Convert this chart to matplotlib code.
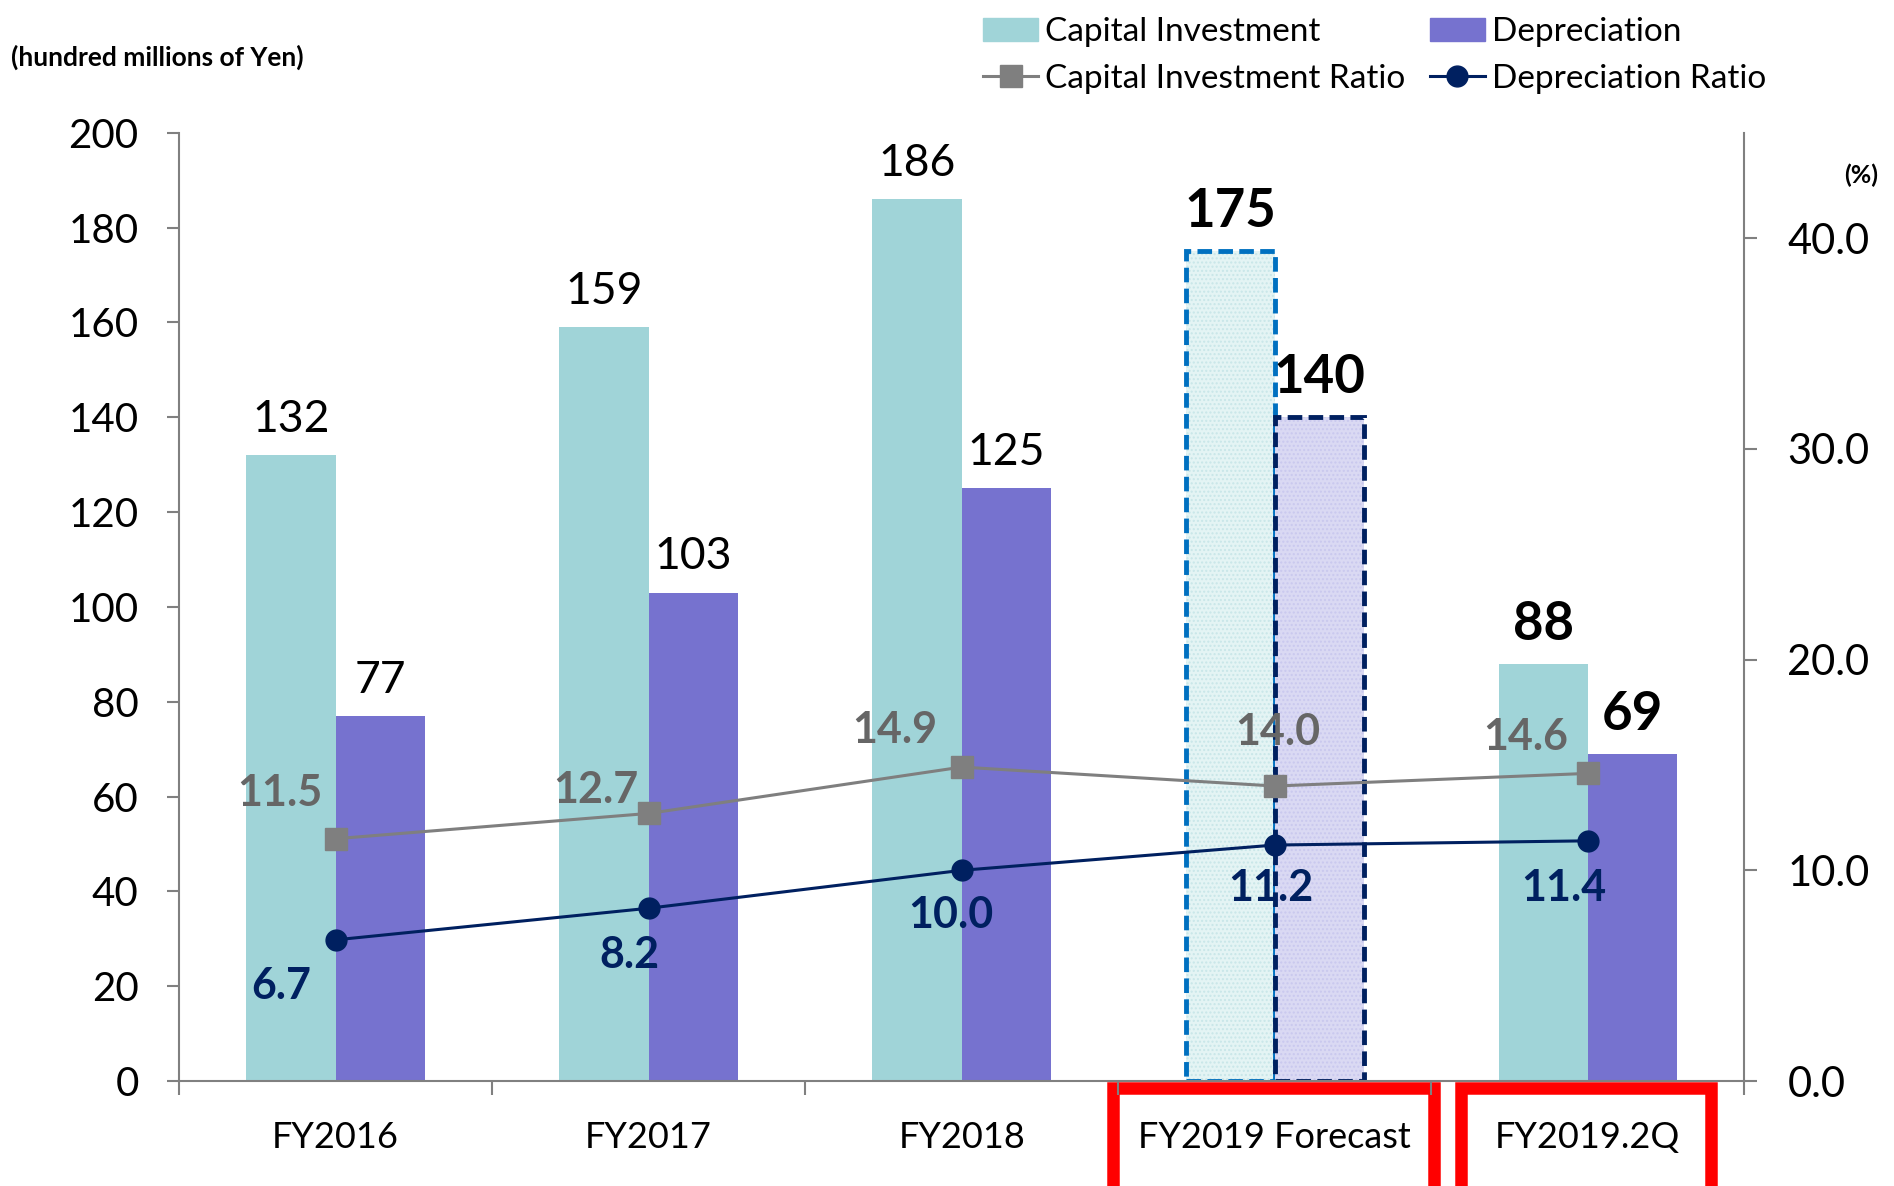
import numpy as np
import matplotlib
matplotlib.use("Agg")
import matplotlib.pyplot as plt
from matplotlib.patches import Rectangle

plt.rcParams['font.family'] = ['Lato', 'DejaVu Sans']

# data
categories = ["FY2016", "FY2017", "FY2018", "FY2019 Forecast", "FY2019.2Q"]
capital = [132, 159, 186, 175, 88]
depreciation = [77, 103, 125, 140, 69]
capital_ratio = [11.5, 12.7, 14.9, 14.0, 14.6]
dep_ratio = [6.7, 8.2, 10.0, 11.2, 11.4]
forecast = [False, False, False, True, False]
highlight = [False, False, False, True, True]

# label offsets (points) for ratio labels
cap_off = [(-40, 33), (-38, 17), (-48, 27), (2, 39), (-45, 26)]
dep_off = [(-39, -33), (-14, -34), (-8, -32), (-3, -31), (-17, -34)]

c_cap = "#A0D4D8"
c_dep = "#7672CF"
c_cap_ratio = "#7F7F7F"
c_dep_ratio = "#002060"

fig = plt.figure(figsize=(18.94, 11.86), dpi=100)
ax = fig.add_axes([0.0945, 0.0885, 0.8265, 0.7995])
ax2 = ax.twinx()

x = np.arange(len(categories))
w = 0.285

for i in range(len(categories)):
    if forecast[i]:
        ax.bar(x[i] - w / 2, capital[i], w, color="#E4F4F4", edgecolor="#C8E6E8",
               linewidth=0, hatch="....", zorder=2)
        ax.bar(x[i] - w / 2, capital[i], w, fill=False, edgecolor="#0070C0",
               linestyle=(0, (3, 1.3)), linewidth=3.5, zorder=2)
        ax.bar(x[i] + w / 2, depreciation[i], w, color="#DAD9F3", edgecolor="#C9C8EE",
               linewidth=0, hatch="....", zorder=2)
        ax.bar(x[i] + w / 2, depreciation[i], w, fill=False, edgecolor=c_dep_ratio,
               linestyle=(0, (3, 1.3)), linewidth=3.5, zorder=2)
    else:
        ax.bar(x[i] - w / 2, capital[i], w, color=c_cap, zorder=2)
        ax.bar(x[i] + w / 2, depreciation[i], w, color=c_dep, zorder=2)

# bar value labels
for i in range(len(categories)):
    big = i >= 3
    fs = 38 if big else 32
    fw = "bold" if big else "normal"
    ax.annotate(str(capital[i]), (x[i] - w / 2, capital[i]), xytext=(0, 11),
                textcoords="offset points", ha="center", va="bottom", fontsize=fs, fontweight=fw)
    ax.annotate(str(depreciation[i]), (x[i] + w / 2, depreciation[i]), xytext=(0, 11),
                textcoords="offset points", ha="center", va="bottom", fontsize=fs, fontweight=fw)

ax.set_xlim(-0.5, 4.5)
ax.set_ylim(0, 200)
ax.set_yticks(range(0, 201, 20))
ax.set_xticks(x)
ax.set_xticklabels(categories, fontsize=26)
ax.set_xticks(np.arange(-0.5, 4.6, 1), minor=True)
ax.tick_params(axis="x", which="major", length=0, pad=29)
ax.tick_params(axis="x", which="minor", length=10, width=1.5, color="#808080", direction="out")
ax.tick_params(axis="y", labelsize=29, length=9, width=1.5, color="#808080", pad=20)
for s in ["top", "right"]:
    ax.spines[s].set_visible(False)
for s in ["left", "bottom"]:
    ax.spines[s].set_color("#808080")
    ax.spines[s].set_linewidth(1.5)

# ratio lines
l1, = ax2.plot(x, capital_ratio, color=c_cap_ratio, marker="s", markersize=16, linewidth=2.2,
               label="Capital Investment Ratio", zorder=3)
l2, = ax2.plot(x, dep_ratio, color=c_dep_ratio, marker="o", markersize=15, linewidth=2.2,
               label="Depreciation Ratio", zorder=3)
for i in range(len(categories)):
    ax2.annotate(f"{capital_ratio[i]:.1f}", (x[i], capital_ratio[i]), xytext=cap_off[i],
                 textcoords="offset points", ha="center", va="center", fontsize=31,
                 fontweight="bold", color="#666666")
    ax2.annotate(f"{dep_ratio[i]:.1f}", (x[i], dep_ratio[i]), xytext=dep_off[i],
                 textcoords="offset points", ha="center", va="center", fontsize=31,
                 fontweight="bold", color=c_dep_ratio)

ax2.set_ylim(0, 45)
ax2.set_yticks(range(0, 41, 10))
ax2.set_yticklabels([f"{v:.1f}" for v in range(0, 41, 10)])
ax2.tick_params(axis="y", labelsize=30, length=9, width=1.5, color="#808080", pad=22)
for s in ["top", "left", "bottom"]:
    ax2.spines[s].set_visible(False)
ax2.spines["right"].set_color("#808080")
ax2.spines["right"].set_linewidth(1.5)

# red highlight boxes around x labels
trans = ax.get_xaxis_transform()
boxes = {3: (-0.516, 0.509), 4: (-0.406, 0.392)}
for i, (a, b) in boxes.items():
    if highlight[i]:
        ax.add_patch(Rectangle((x[i] + a, -0.117), b - a, 0.110, transform=trans,
                               fill=False, edgecolor="#FF0000", linewidth=9, clip_on=False,
                               joinstyle="miter"))

# legend
h_cap = Rectangle((0, 0), 1, 1, color=c_cap)
h_dep = Rectangle((0, 0), 1, 1, color=c_dep)
fig.legend([h_cap, l1, h_dep, l2],
           ["Capital Investment", "Capital Investment Ratio", "Depreciation", "Depreciation Ratio"],
           ncol=2, loc="upper left", bbox_to_anchor=(0.512, 0.997), frameon=False,
           fontsize=24, handlelength=1.65, handletextpad=0.2, columnspacing=0.75,
           labelspacing=0.5, borderaxespad=0)

fig.text(0.006, 0.952, "(hundred millions of Yen)", fontsize=19, fontweight="bold", va="center")
fig.text(0.9737, 0.852, "(%)", fontsize=18, fontweight="bold", va="center")

fig.savefig("out.png", dpi=100)
